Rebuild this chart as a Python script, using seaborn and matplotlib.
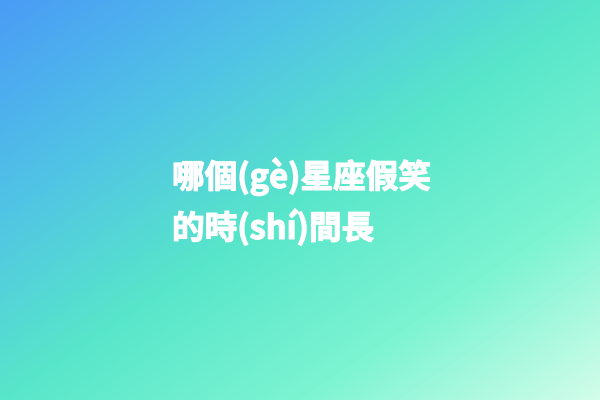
import numpy as np
import matplotlib
matplotlib.use("Agg")
import matplotlib.pyplot as plt
import matplotlib.patheffects as pe
from matplotlib.colors import LinearSegmentedColormap
import seaborn as sns

# Background gradient stops (diagonal, top-left -> bottom-right)
stop_positions = [0.0, 0.25, 0.5, 0.75, 1.0]
stop_colors = ["#4a9cf6", "#50c2e6", "#58e6ca", "#7cf4d2", "#d2fdea"]

# Title text lines
title_lines = ["哪個(gè)星座假笑", "的時(shí)間長"]
line_x = [172, 172]
line_y = [176, 227]

sns.set_theme(style="white")
plt.rcParams["font.family"] = ["Noto Sans CJK TC", "DejaVu Sans"]

W, H = 600, 400
fig = plt.figure(figsize=(6, 4), dpi=100)
ax = fig.add_axes([0, 0, 1, 1])
ax.set_axis_off()

cmap = LinearSegmentedColormap.from_list("bg", list(zip(stop_positions, stop_colors)))
xx, yy = np.meshgrid(np.linspace(0, 1, W), np.linspace(0, 1, H))
t = (xx + yy) / 2
ax.imshow(t, cmap=cmap, vmin=0, vmax=1, extent=[0, W, H, 0], aspect="auto",
          interpolation="bilinear")
ax.set_xlim(0, W)
ax.set_ylim(H, 0)

for txt, x, y in zip(title_lines, line_x, line_y):
    ax.text(x, y, txt, color="white", fontsize=23.5, fontweight="bold",
            ha="left", va="center",
            path_effects=[pe.withStroke(linewidth=0.9, foreground="white")])

fig.savefig("out.png", dpi=100)
